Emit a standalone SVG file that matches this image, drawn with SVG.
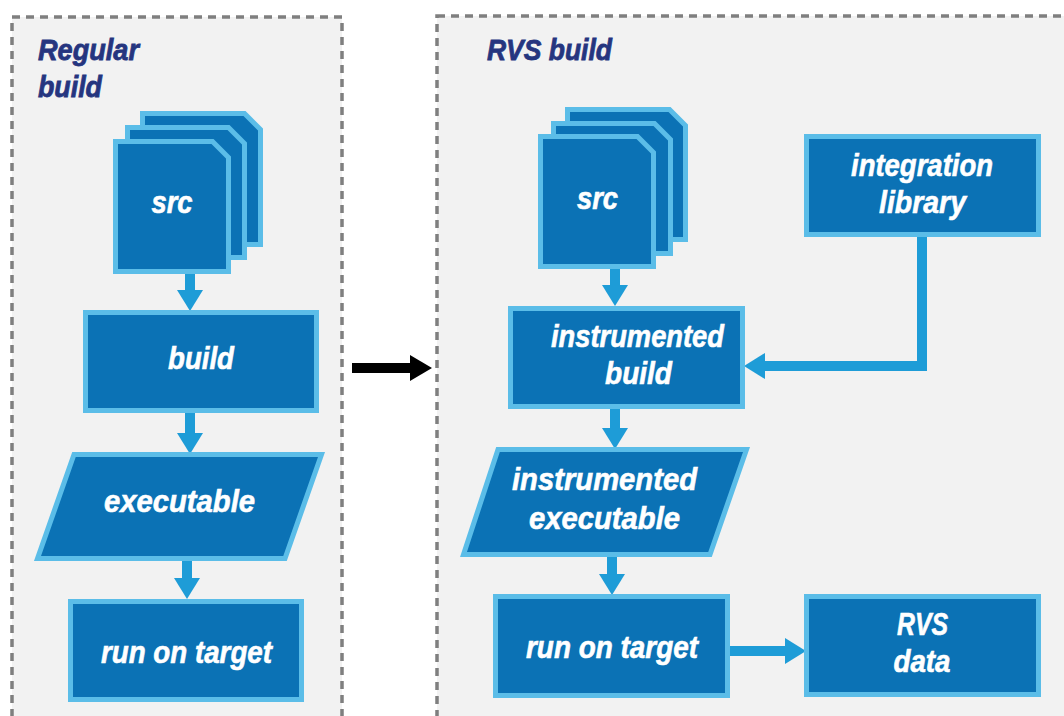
<svg xmlns="http://www.w3.org/2000/svg" width="1064" height="716" viewBox="0 0 1064 716">
<defs>
<style>
.panel{fill:#f2f2f2;stroke:#7f7f7f;stroke-width:3.5;stroke-dasharray:8 6}
.node{fill:#0b72b5;stroke:#5bbde8;stroke-width:5}
.lbl{fill:#ffffff;stroke:#ffffff;stroke-width:0.6;font-family:"Liberation Sans Narrow","Liberation Sans",Arial,sans-serif;font-weight:bold;font-style:italic;font-size:31px;text-anchor:middle}
.title{fill:#25357f;stroke:#25357f;stroke-width:0.8;font-family:"Liberation Sans Narrow","Liberation Sans",Arial,sans-serif;font-weight:bold;font-style:italic;font-size:30px}
.conn{fill:none;stroke:#1e9cd7;stroke-width:10}
.blk{fill:none;stroke:#000;stroke-width:10}
</style>
<marker id="ah" markerUnits="userSpaceOnUse" markerWidth="22" markerHeight="26" refX="0" refY="13" orient="auto" overflow="visible">
<path d="M0,0 L21,13 L0,26 Z" fill="#1e9cd7"/>
</marker>
<marker id="ahk" markerUnits="userSpaceOnUse" markerWidth="22" markerHeight="26" refX="0" refY="13" orient="auto" overflow="visible">
<path d="M0,0 L22,13 L0,26 Z" fill="#000"/>
</marker>
</defs>
<rect width="1064" height="716" fill="#ffffff"/>
<g id="panel-regular">
<rect class="panel" x="12" y="17" width="330" height="720"/>
<text class="title" x="38" y="60" textLength="101" lengthAdjust="spacingAndGlyphs">Regular</text>
<text class="title" x="38" y="97" textLength="64" lengthAdjust="spacingAndGlyphs">build</text>
</g>
<g id="panel-rvs">
<rect class="panel" x="437" y="16" width="660" height="720"/>
<text class="title" x="487" y="60" textLength="125" lengthAdjust="spacingAndGlyphs">RVS build</text>
</g>
<g id="connectors">
<line class="conn" x1="190" y1="274" x2="190" y2="290" marker-end="url(#ah)"/>
<line class="conn" x1="190" y1="413" x2="190" y2="433" marker-end="url(#ah)"/>
<line class="conn" x1="187" y1="561" x2="187" y2="578" marker-end="url(#ah)"/>
<line class="conn" x1="615" y1="269" x2="615" y2="285" marker-end="url(#ah)"/>
<line class="conn" x1="615" y1="409" x2="615" y2="428" marker-end="url(#ah)"/>
<line class="conn" x1="612" y1="557" x2="612" y2="574" marker-end="url(#ah)"/>
<line class="conn" x1="730" y1="651" x2="785" y2="651" marker-end="url(#ah)"/>
<path class="conn" d="M922,237 V366 H765" stroke-width="9" marker-end="url(#ah)"/>
<line class="blk" x1="352" y1="368" x2="410" y2="368" marker-end="url(#ahk)"/>
</g>
<g id="src-left">
<path class="node" d="M142.5,113.5 H244.5 L260.5,129.5 V244.5 H142.5 Z"/>
<path class="node" d="M127.5,127.5 H228.5 L244.5,143.5 V257.5 H127.5 Z"/>
<path class="node" d="M115.5,141.5 H212.5 L228.5,157.5 V271.5 H115.5 Z"/>
<text class="lbl" x="172" y="213" textLength="41" lengthAdjust="spacingAndGlyphs">src</text>
</g>
<g id="build-left">
<rect class="node" x="85.5" y="312.5" width="231" height="98"/>
<text class="lbl" x="201" y="369" textLength="66" lengthAdjust="spacingAndGlyphs">build</text>
</g>
<g id="exec-left">
<polygon class="node" points="74,454.5 321.5,454.5 285,558.5 37.5,558.5"/>
<text class="lbl" x="179.5" y="512" textLength="151" lengthAdjust="spacingAndGlyphs">executable</text>
</g>
<g id="run-left">
<rect class="node" x="70.5" y="601.5" width="231" height="98"/>
<text class="lbl" x="186.5" y="663" textLength="171" lengthAdjust="spacingAndGlyphs">run on target</text>
</g>
<g id="src-right">
<path class="node" d="M567.5,109.5 H669.5 L685.5,125.5 V239.5 H567.5 Z"/>
<path class="node" d="M553.5,123.5 H654.5 L670.5,139.5 V253.5 H553.5 Z"/>
<path class="node" d="M540.5,136.5 H637.5 L653.5,152.5 V266.5 H540.5 Z"/>
<text class="lbl" x="597.5" y="209" textLength="41" lengthAdjust="spacingAndGlyphs">src</text>
</g>
<g id="integration-library">
<rect class="node" x="806.5" y="136.5" width="232" height="98"/>
<text class="lbl" x="922" y="176" textLength="142" lengthAdjust="spacingAndGlyphs">integration</text>
<text class="lbl" x="922.5" y="213" textLength="87" lengthAdjust="spacingAndGlyphs">library</text>
</g>
<g id="instrumented-build">
<rect class="node" x="510.5" y="308.5" width="232" height="98"/>
<text class="lbl" x="637.5" y="347" textLength="173" lengthAdjust="spacingAndGlyphs">instrumented</text>
<text class="lbl" x="638.5" y="384" textLength="67" lengthAdjust="spacingAndGlyphs">build</text>
</g>
<g id="instrumented-executable">
<polygon class="node" points="498,449.5 746.5,449.5 710,554.5 463.5,554.5"/>
<text class="lbl" x="604.5" y="490" font-size="33" textLength="185" lengthAdjust="spacingAndGlyphs">instrumented</text>
<text class="lbl" x="604.5" y="529" font-size="33" textLength="151" lengthAdjust="spacingAndGlyphs">executable</text>
</g>
<g id="run-right">
<rect class="node" x="495.5" y="596.5" width="232" height="99"/>
<text class="lbl" x="612" y="658" textLength="172" lengthAdjust="spacingAndGlyphs">run on target</text>
</g>
<g id="rvs-data">
<rect class="node" x="806.5" y="596.5" width="232" height="98"/>
<text class="lbl" x="922.5" y="635" textLength="51" lengthAdjust="spacingAndGlyphs">RVS</text>
<text class="lbl" x="922" y="672" textLength="57" lengthAdjust="spacingAndGlyphs">data</text>
</g>
</svg>
